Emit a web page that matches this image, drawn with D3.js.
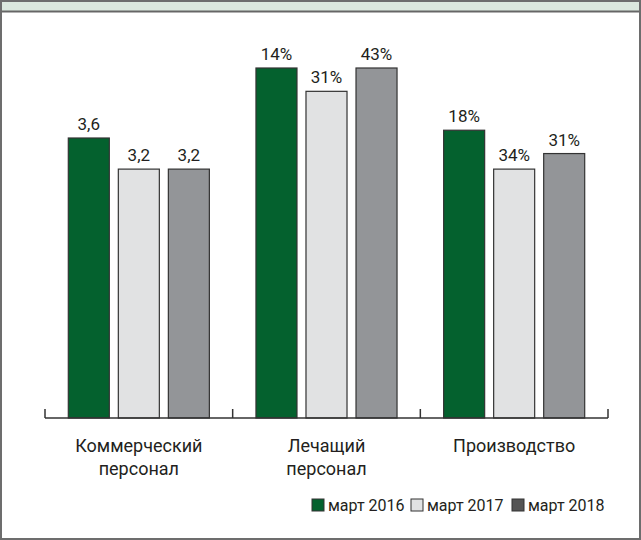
<!DOCTYPE html>
<html>
<head>
<meta charset="utf-8">
<script src="https://cdn.jsdelivr.net/npm/d3@7"></script>
<style>
  body { margin: 0; background: #fff; }
  svg { display: block; font-family: Roboto, "Noto Sans", sans-serif; }
</style>
</head>
<body>
<svg id="chart" width="641" height="540"></svg>
<script>
// data
const categories = ["Коммерческий\nперсонал", "Лечащий\nперсонал", "Производство"];
const seriesNames = ["март 2016", "март 2017", "март 2018"];
// bar heights (same scale for all groups)
const values2016 = [3.6, 4.5, 3.7];
const values2017 = [3.2, 4.2, 3.2];
const values2018 = [3.2, 4.5, 3.4];
// texts printed above bars
const labels2016 = ["3,6", "14%", "18%"];
const labels2017 = ["3,2", "31%", "34%"];
const labels2018 = ["3,2", "43%", "31%"];

const colors = ["#04612e", "#e1e2e3", "#939598"];

const svg = d3.select("#chart");
const W = 641, H = 540;

// frame + header band
svg.append("rect").attr("x", 0).attr("y", 0).attr("width", W).attr("height", 11).attr("fill", "#dbe8de");
svg.append("line").attr("x1", 0).attr("x2", W).attr("y1", 11.5).attr("y2", 11.5).attr("stroke", "#666").attr("stroke-width", 2);
svg.append("rect").attr("x", 1).attr("y", 1).attr("width", W - 2).attr("height", H - 2)
    .attr("fill", "none").attr("stroke", "#6d6d6d").attr("stroke-width", 2);

const x = d3.scaleBand().domain(categories).range([45, 608]).paddingInner(0).paddingOuter(0);
const xs = d3.scaleBand().domain(seriesNames)
    .range([23.3, x.bandwidth() - 23.3]).paddingInner(0.18).paddingOuter(0);
const y = d3.scaleLinear().domain([0, 4.5]).range([418, 68]);

const rows = categories.map((c, i) => ({
    cat: c,
    vals: [values2016[i], values2017[i], values2018[i]],
    labs: [labels2016[i], labels2017[i], labels2018[i]]
}));

const groups = svg.append("g").selectAll("g")
    .data(rows)
    .join("g")
    .attr("transform", d => `translate(${x(d.cat)},0)`);

groups.selectAll("rect")
    .data(d => d.vals.map((v, j) => ({ v, s: seriesNames[j], j })))
    .join("rect")
    .attr("x", d => xs(d.s))
    .attr("y", d => y(d.v))
    .attr("width", xs.bandwidth())
    .attr("height", d => y(0) - y(d.v))
    .attr("fill", d => colors[d.j])
    .attr("stroke", "#333")
    .attr("stroke-width", 1.2);

groups.selectAll("text.val")
    .data(d => d.vals.map((v, j) => ({ v, s: seriesNames[j], t: d.labs[j] })))
    .join("text")
    .attr("class", "val")
    .attr("x", d => xs(d.s) + xs.bandwidth() / 2)
    .attr("y", d => y(d.v) - 8)
    .attr("text-anchor", "middle")
    .attr("font-size", 17)
    .attr("fill", "#231f20")
    .text(d => d.t);

// axis: baseline with ticks at band boundaries
const axis = svg.append("g");
axis.append("line").attr("x1", 45).attr("x2", 608).attr("y1", y(0)).attr("y2", y(0))
    .attr("stroke", "#333").attr("stroke-width", 1.5);
const tickPos = categories.map(c => x(c)).concat([x.range()[1]]);
axis.selectAll("line.tick")
    .data(tickPos)
    .join("line")
    .attr("class", "tick")
    .attr("x1", d => d).attr("x2", d => d)
    .attr("y1", y(0)).attr("y2", y(0) - 9)
    .attr("stroke", "#333").attr("stroke-width", 1.5);

const catText = axis.selectAll("text.cat")
    .data(categories)
    .join("text")
    .attr("class", "cat")
    .attr("x", d => x(d) + x.bandwidth() / 2)
    .attr("y", 452)
    .attr("text-anchor", "middle")
    .attr("font-size", 18)
    .attr("fill", "#231f20");
catText.selectAll("tspan")
    .data(d => d.split("\n"))
    .join("tspan")
    .attr("x", function () { return d3.select(this.parentNode).attr("x"); })
    .attr("dy", (d, i) => i === 0 ? 0 : 23)
    .text(d => d);

// legend
const legX = [312, 411, 512];
const legend = svg.append("g").selectAll("g")
    .data(seriesNames)
    .join("g")
    .attr("transform", (d, i) => `translate(${legX[i]},499)`);
legend.append("rect")
    .attr("width", 12).attr("height", 12)
    .attr("fill", (d, i) => i === 2 ? "#555" : colors[i])
    .attr("stroke", "#333").attr("stroke-width", 1);
legend.append("text")
    .attr("x", 16).attr("y", 12)
    .attr("font-size", 16)
    .attr("fill", "#231f20")
    .text(d => d);
</script>
</body>
</html>
